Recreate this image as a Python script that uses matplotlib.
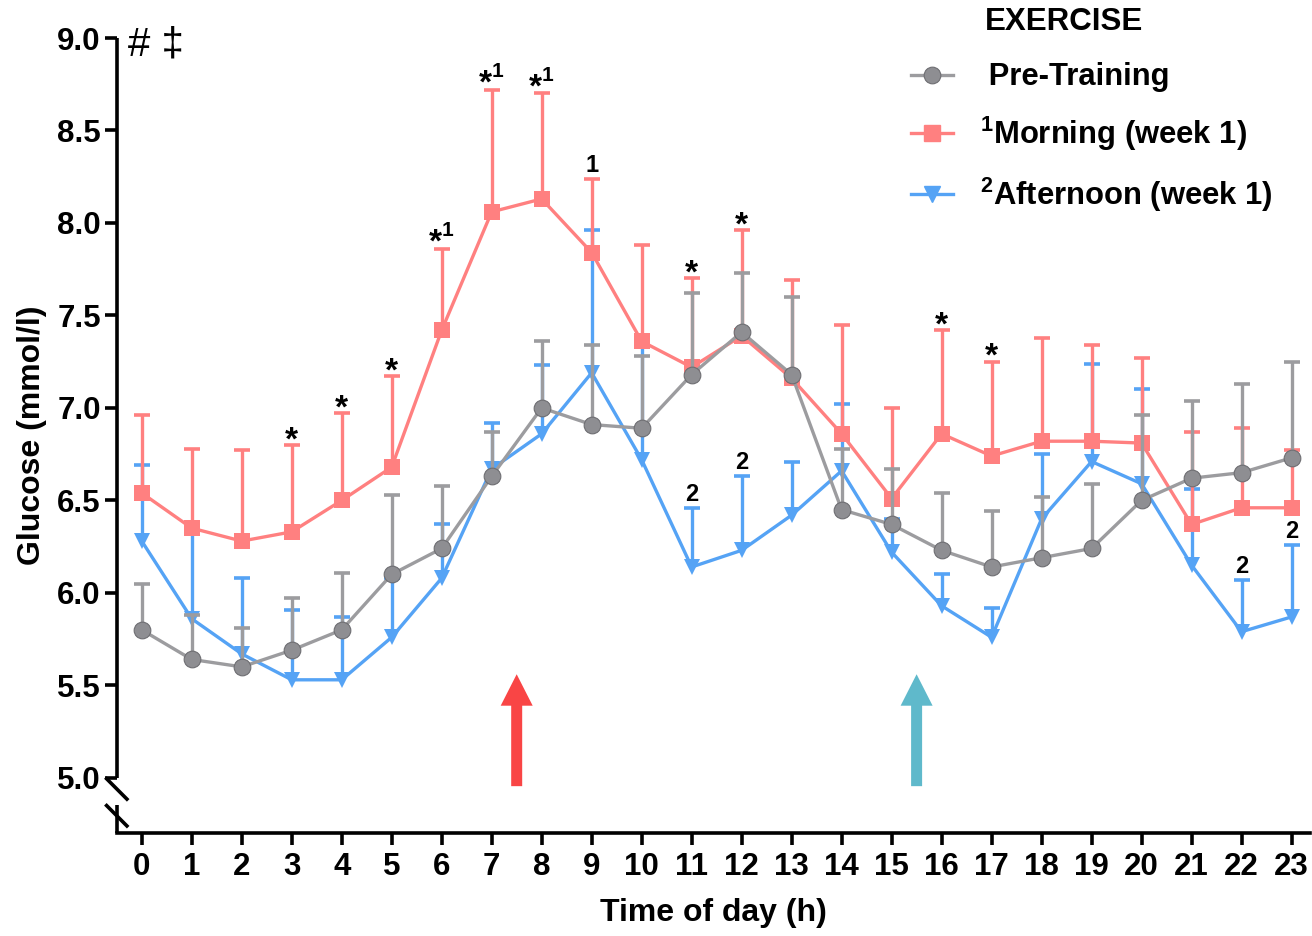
import numpy as np
import matplotlib
matplotlib.use("Agg")
import matplotlib.pyplot as plt
from matplotlib.lines import Line2D

plt.rcParams['font.family'] = ['Liberation Sans', 'DejaVu Sans']
plt.rcParams['font.weight'] = 'bold'
plt.rcParams['mathtext.fontset'] = 'custom'
plt.rcParams['mathtext.rm'] = 'Liberation Sans:bold'
plt.rcParams['mathtext.bf'] = 'Liberation Sans:bold'

hours = list(range(24))

# Pre-Training
pre_mean = [5.80, 5.64, 5.60, 5.69, 5.80, 6.10, 6.24, 6.63, 7.00, 6.91, 6.89, 7.18,
            7.41, 7.18, 6.45, 6.37, 6.23, 6.14, 6.19, 6.24, 6.50, 6.62, 6.65, 6.73]
pre_top = [6.05, 5.88, 5.81, 5.97, 6.11, 6.53, 6.58, 6.87, 7.36, 7.34, 7.28, 7.62,
           7.73, 7.60, 6.78, 6.67, 6.54, 6.44, 6.52, 6.59, 6.96, 7.04, 7.13, 7.25]

# Morning (week 1)
morn_mean = [6.54, 6.35, 6.28, 6.33, 6.50, 6.68, 7.42, 8.06, 8.13, 7.84, 7.36, 7.22,
             7.39, 7.16, 6.86, 6.51, 6.86, 6.74, 6.82, 6.82, 6.81, 6.37, 6.46, 6.46]
morn_top = [6.96, 6.78, 6.77, 6.80, 6.97, 7.17, 7.86, 8.72, 8.70, 8.24, 7.88, 7.70,
            7.96, 7.69, 7.45, 7.00, 7.42, 7.25, 7.38, 7.34, 7.27, 6.87, 6.89, 6.77]

# Afternoon (week 1)
aft_mean = [6.28, 5.86, 5.67, 5.53, 5.53, 5.76, 6.08, 6.67, 6.86, 7.19, 6.72, 6.14,
            6.23, 6.42, 6.66, 6.22, 5.93, 5.76, 6.40, 6.71, 6.59, 6.15, 5.79, 5.87]
aft_top = [6.69, 6.33, 6.08, 5.91, 5.87, 6.08, 6.37, 6.92, 7.23, 7.96, 7.34, 6.46,
           6.63, 6.71, 7.02, 6.40, 6.10, 5.92, 6.75, 7.24, 7.10, 6.56, 6.07, 6.26]

# significance marks
morn_marks = {3: "*", 4: "*", 5: "*", 6: "*1", 7: "*1", 8: "*1", 9: "1",
              11: "*", 12: "*", 16: "*", 17: "*"}
aft_marks = {11: "2", 12: "2", 22: "2", 23: "2"}

# exercise times (arrows)
exercise_times = [7.5, 15.5]
exercise_colors = ["#F94545", "#5FB9CB"]

gray = "#9C9C9F"
red = "#FF8080"
blue = "#55A3F5"

fig = plt.figure(figsize=(13.12, 9.36), dpi=100)
ax = fig.add_axes([0.089, 0.1097, 0.9095, 0.8497])

def draw(mean, top, color, marker, ms, z, mfc, mec, mew):
    # upper error bars only: stem + cap at the top
    ax.vlines(hours, mean, top, color=color, lw=2.4, zorder=z)
    ax.plot(hours, top, ls='none', marker='_', ms=11.5, mew=2.6, color=color, zorder=z)
    ax.plot(hours, mean, color=color, lw=2.4, marker=marker, ms=ms,
            mfc=mfc, mec=mec, mew=mew, zorder=z + 0.1)

draw(aft_mean, aft_top, blue, 'v', 12, 3, blue, blue, 0)
draw(morn_mean, morn_top, red, 's', 11.5, 4, red, red, 0)
draw(pre_mean, pre_top, gray, 'o', 12, 5, "#8E8E92", "#6E6E72", 0.8)

# annotations
for i, s in morn_marks.items():
    y = morn_top[i]
    if s == "*":
        ax.annotate("*", (i, y), xytext=(0, -3), textcoords='offset points',
                    ha='center', va='baseline', fontsize=24, zorder=10)
    elif s == "1":
        ax.annotate("1", (i, y), xytext=(0, 4.5), textcoords='offset points',
                    ha='center', va='baseline', fontsize=17, zorder=10)
    else:
        ax.annotate("*", (i, y), xytext=(-4.5, -2), textcoords='offset points',
                    ha='center', va='baseline', fontsize=24, zorder=10)
        ax.annotate("1", (i, y), xytext=(4.5, 9), textcoords='offset points',
                    ha='center', va='baseline', fontsize=15, zorder=10)
for i, s in aft_marks.items():
    ax.annotate(s, (i, aft_top[i]), xytext=(0, 5), textcoords='offset points',
                ha='center', va='baseline', fontsize=17, zorder=10)

# exercise arrows
for t, c in zip(exercise_times, exercise_colors):
    ax.arrow(t, 4.955, 0, 0.605, width=0.22, head_width=0.64, head_length=0.17,
             length_includes_head=True, color=c, lw=0, zorder=2)

ax.set_xlim(-0.5, 23.37)
ax.set_ylim(4.70, 9.0)
ax.set_xticks(hours)
ax.set_yticks(np.arange(5.0, 9.01, 0.5))
ax.set_yticklabels([f"{v:.1f}" for v in np.arange(5.0, 9.01, 0.5)])
ax.tick_params(axis='both', labelsize=22.5, width=2.6, length=8.5)
ax.tick_params(axis='x', pad=5)
ax.tick_params(axis='y', pad=3)
for lab in ax.get_xticklabels() + ax.get_yticklabels():
    lab.set_fontweight('bold')

for sp in ['top', 'right', 'left']:
    ax.spines[sp].set_visible(False)
ax.spines['bottom'].set_linewidth(2.6)

# broken y axis
tr = ax.get_yaxis_transform()
ax.plot([0, 0], [5.0, 9.0], color='black', lw=2.6, transform=tr, clip_on=False,
        solid_capstyle='butt')
ax.plot([0, 0], [4.70, 4.855], color='black', lw=2.6, transform=tr, clip_on=False,
        solid_capstyle='butt')
dx = 0.0085
for yc in [4.94, 4.795]:
    ax.plot([-dx, dx], [yc + 0.055, yc - 0.055], color='black', lw=2.6,
            transform=tr, clip_on=False)

ax.set_xlabel("Time of day (h)", fontsize=23, fontweight='bold')
ax.set_ylabel("Glucose (mmol/l)", fontsize=23, fontweight='bold')
ax.xaxis.set_label_coords(0.5, -0.081)
ax.yaxis.set_label_coords(-0.0584, 0.5)

fig.text(128 / 1312, 1 - 44 / 936, "# \u2021", fontsize=29, fontweight='normal',
         ha='left', va='center')

# legend
handles = [
    Line2D([], [], color=gray, lw=2.4, marker='o', ms=12, mfc="#8E8E92", mec="#6E6E72", mew=0.8),
    Line2D([], [], color=red, lw=2.4, marker='s', ms=11.5, mfc=red, mec=red),
    Line2D([], [], color=blue, lw=2.4, marker='v', ms=12, mfc=blue, mec=blue),
]
labels = [" Pre-Training", r"$^{1}$Morning (week 1)", r"$^{2}$Afternoon (week 1)"]
fig.text(985 / 1312, 1 - 22 / 936, "EXERCISE", fontsize=22.5, fontweight='bold',
         ha='left', va='center')
leg = ax.legend(handles, labels, loc='upper left', bbox_to_anchor=(896 / 1312, 1 - 47 / 936),
                bbox_transform=fig.transFigure, frameon=False, fontsize=22.3,
                handlelength=1.35, handletextpad=0.85, labelspacing=0.72, borderpad=0)
for t in leg.get_texts():
    t.set_fontweight('bold')

fig.savefig("out.png", dpi=100)
